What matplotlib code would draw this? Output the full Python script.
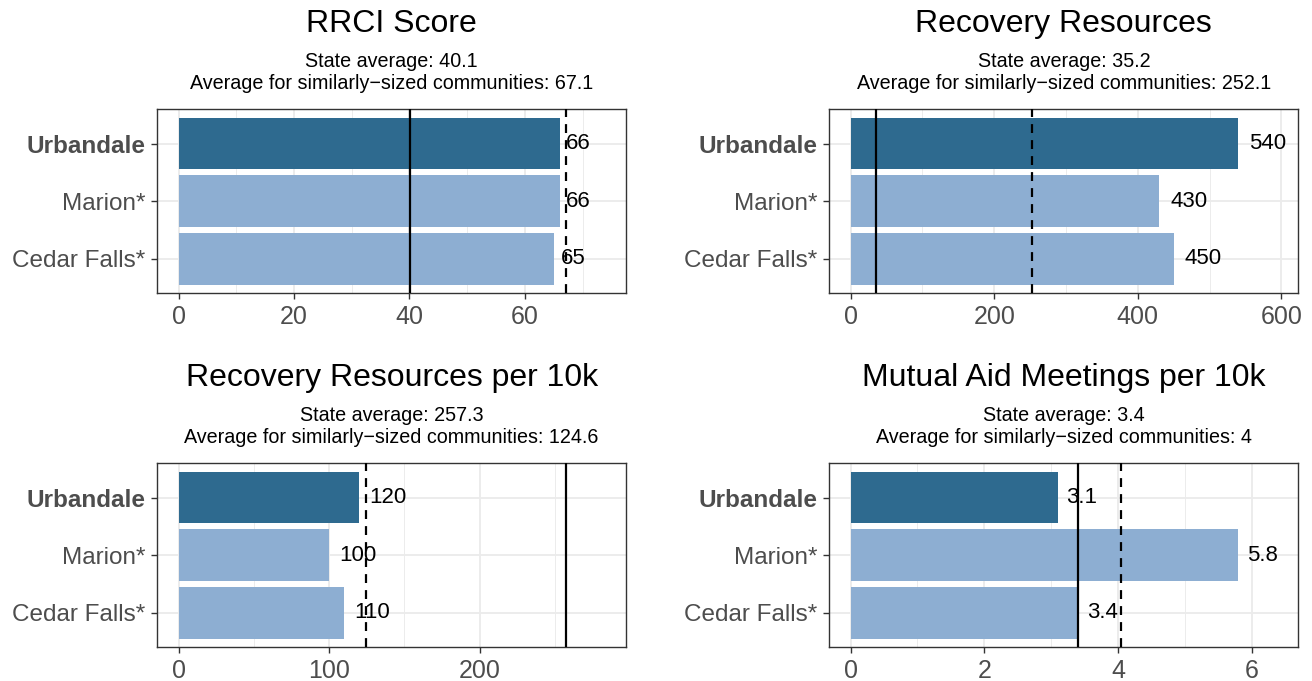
import numpy as np
import matplotlib.pyplot as plt
from matplotlib.ticker import MultipleLocator
from matplotlib.textpath import TextPath
from matplotlib.font_manager import FontProperties

plt.rcParams['font.family'] = ['Liberation Sans', 'DejaVu Sans']

communities = ['Urbandale', 'Marion*', 'Cedar Falls*']
titles = ['RRCI Score', 'Recovery Resources',
          'Recovery Resources per 10k', 'Mutual Aid Meetings per 10k']
rrci_score = [66, 66, 65]
recovery_resources = [540, 430, 450]
resources_per_10k = [120, 100, 110]
meetings_per_10k = [3.1, 5.8, 3.4]
state_avg = [40.1, 35.2, 257.3, 3.4]
similar_avg = [67.1, 252.1, 124.6, 4.04]

series = [rrci_score, recovery_resources, resources_per_10k, meetings_per_10k]
tick_steps = [20, 200, 100, 2]

dark = '#2E6A8F'
light = '#8DAED2'
bar_colors = [dark, light, light]
tick_col = '#4D4D4D'
frame_col = '#333333'

lbl_size = 16


def signif_label(v):
    return '%g' % float('%.2g' % v)


def avg_label(v):
    return '%g' % round(v, 1)


def text_width_pts(s, size):
    tp = TextPath((0, 0), s, size=size, prop=FontProperties(family='Liberation Sans'))
    return tp.get_extents().width


fig = plt.figure(figsize=(13.12, 6.81), dpi=100)

panels = [
    [0.1199, 0.5693, 0.3572, 0.2706],
    [0.6321, 0.5693, 0.3575, 0.2706],
    [0.1199, 0.0495, 0.3572, 0.2706],
    [0.6321, 0.0495, 0.3575, 0.2706],
]

ypos = [3, 2, 1]

for i, rect in enumerate(panels):
    ax = fig.add_axes(rect)
    vals = series[i]
    top = 1.1 * max(max(vals), state_avg[i], similar_avg[i])
    ax.set_xlim(-0.05 * top, 1.05 * top)
    ax.set_ylim(0.4, 3.6)

    ax.barh(ypos, vals, height=0.9, color=bar_colors, zorder=2)
    ax.axvline(state_avg[i], color='black', lw=1.6, zorder=3)
    ax.axvline(similar_avg[i], color='black', lw=1.6, ls=(0, (4, 3.2)), zorder=3)

    for y, v in zip(ypos, vals):
        s = signif_label(v)
        off = 0.3 * text_width_pts(s, lbl_size)
        ax.annotate(s, (v, y), xytext=(off, 0), textcoords='offset points',
                    ha='left', va='center', fontsize=lbl_size, color='black', zorder=4)

    ax.xaxis.set_major_locator(MultipleLocator(tick_steps[i]))
    ax.xaxis.set_minor_locator(MultipleLocator(tick_steps[i] / 2))
    ax.set_yticks(ypos)
    ax.set_yticklabels(communities)
    ax.get_yticklabels()[0].set_fontweight('bold')

    ax.grid(which='major', color='#EBEBEB', lw=1.3, zorder=0)
    ax.grid(which='minor', axis='x', color='#EBEBEB', lw=0.65, zorder=0)
    ax.set_axisbelow(True)
    ax.tick_params(axis='x', which='major', labelsize=18)
    ax.tick_params(axis='y', which='major', labelsize=17.5)
    ax.tick_params(axis='both', which='major', labelcolor=tick_col,
                   color=frame_col, length=4.4, width=1.0, pad=4)
    ax.tick_params(axis='both', which='minor', length=0)
    for sp in ax.spines.values():
        sp.set_color(frame_col)
        sp.set_linewidth(1.0)

    ax.text(0.5, 1 + 85 / 184.3, titles[i], transform=ax.transAxes,
            ha='center', va='center', fontsize=23, color='black')
    sub = ('State average: ' + avg_label(state_avg[i]) + '\n'
           'Average for similarly\u2212sized communities: ' + avg_label(similar_avg[i]))
    ax.text(0.5, 1 + 36.5 / 184.3, sub, transform=ax.transAxes,
            ha='center', va='center', fontsize=14.2, color='black', linespacing=1.22)

fig.savefig('out.png', dpi=100)
